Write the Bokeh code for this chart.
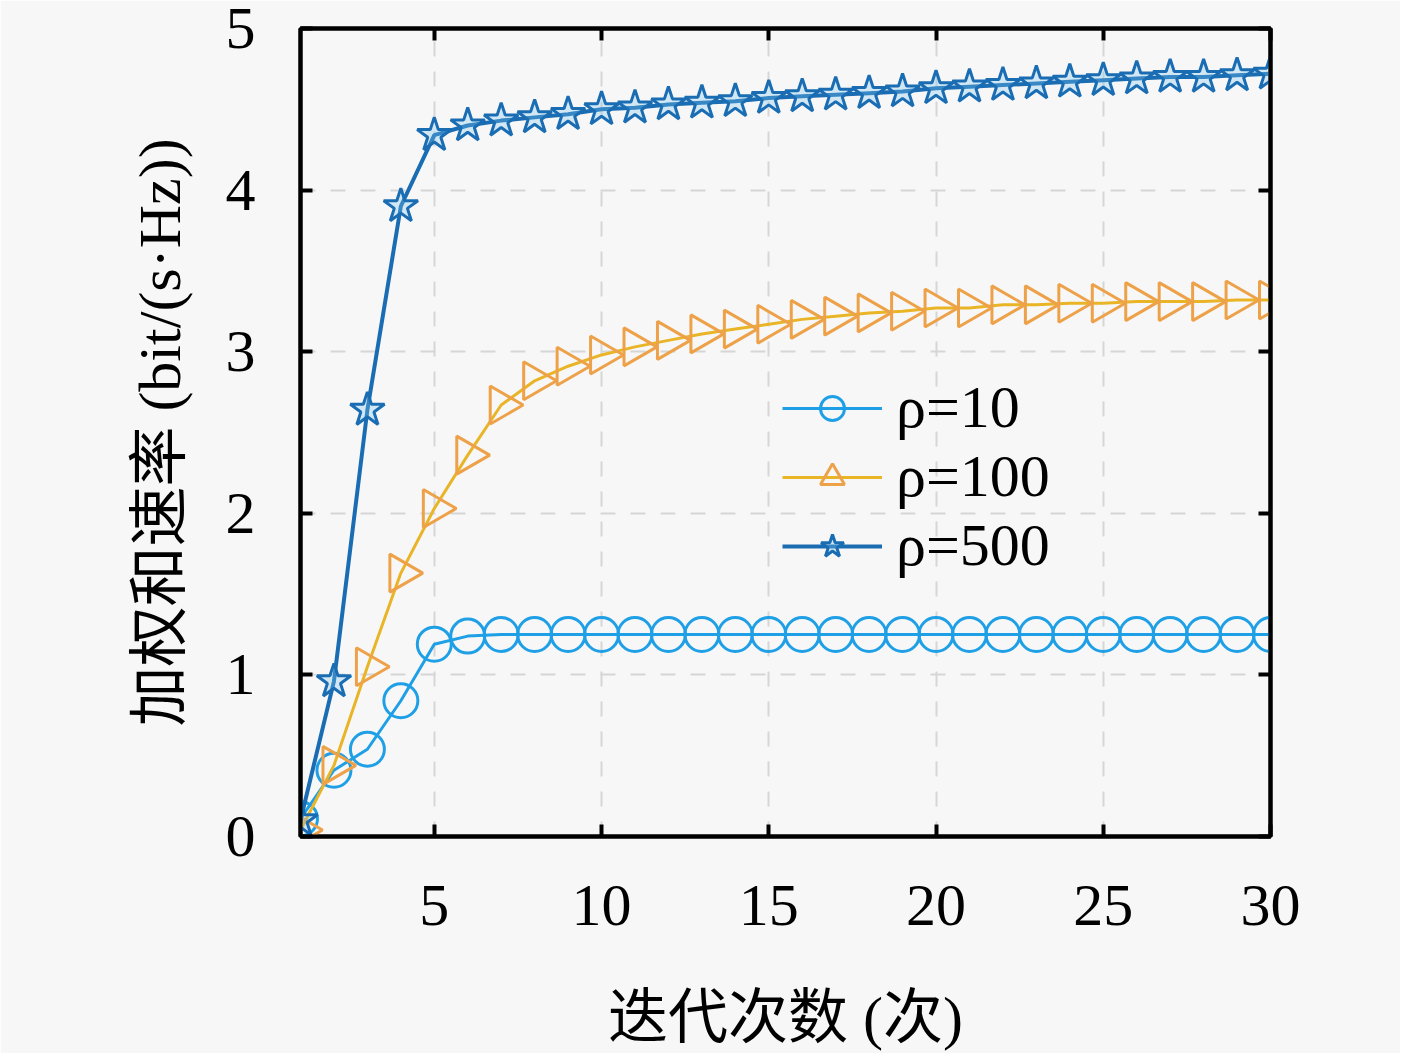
import math
from bokeh.plotting import figure
from bokeh.models import Range1d, LinearAxis, FixedTicker, Legend, LegendItem
from bokeh.embed import file_html
from bokeh.resources import INLINE

iters = list(range(1, 31))
rate_rho10 = [0.11, 0.41, 0.54, 0.84, 1.19, 1.24, 1.25, 1.25, 1.25, 1.25,
              1.25, 1.25, 1.25, 1.25, 1.25, 1.25, 1.25, 1.25, 1.25, 1.25,
              1.25, 1.25, 1.25, 1.25, 1.25, 1.25, 1.25, 1.25, 1.25, 1.25]
rate_rho100 = [0.04, 0.44, 1.05, 1.63, 2.03, 2.36, 2.67, 2.82, 2.91, 2.98,
               3.03, 3.07, 3.11, 3.14, 3.17, 3.20, 3.22, 3.24, 3.25, 3.27,
               3.27, 3.29, 3.29, 3.30, 3.30, 3.31, 3.31, 3.31, 3.32, 3.32]
rate_rho500 = [0.10, 0.96, 2.64, 3.90, 4.34, 4.40, 4.43, 4.45, 4.47, 4.50,
               4.51, 4.53, 4.54, 4.55, 4.57, 4.58, 4.59, 4.60, 4.61, 4.63,
               4.64, 4.65, 4.66, 4.67, 4.68, 4.69, 4.70, 4.70, 4.71, 4.72]
labels = ["ρ=10", "ρ=100", "ρ=500"]
x_ticks = [5, 10, 15, 20, 25, 30]
y_ticks = [0, 1, 2, 3, 4, 5]
x_label = "迭代次数 (次)"
y_label = "加权和速率 (bit/(s·Hz))"

BG = "#f7f7f7"
FONT = "Liberation Serif, Noto Sans CJK SC"

p = figure(frame_width=970, frame_height=808,
           min_border_left=300, min_border_right=130, min_border_top=28, min_border_bottom=214,
           x_range=Range1d(1, 30), y_range=Range1d(0, 5),
           output_backend="svg", toolbar_location=None,
           background_fill_color=BG, border_fill_color=BG)

p.outline_line_color = "black"
p.outline_line_width = 4

for ax in p.xaxis:
    ax.ticker = FixedTicker(ticks=x_ticks)
    ax.axis_label = x_label
    ax.axis_label_standoff = 57
    ax.major_label_standoff = 49
for ax in p.yaxis:
    ax.ticker = FixedTicker(ticks=y_ticks)
    ax.axis_label = y_label
    ax.axis_label_standoff = 30
    ax.major_label_standoff = 45

for ax in p.xaxis + p.yaxis:
    ax.axis_line_width = 4
    ax.axis_line_color = "black"
    ax.major_tick_in = 12
    ax.major_tick_out = 0
    ax.major_tick_line_width = 4
    ax.minor_tick_line_color = None
    ax.major_label_text_font = FONT
    ax.major_label_text_font_size = "60px"
    ax.major_label_text_color = "black"
    ax.axis_label_text_font = FONT
    ax.axis_label_text_font_size = "60px"
    ax.axis_label_text_font_style = "normal"
    ax.axis_label_text_color = "black"

top = LinearAxis(ticker=FixedTicker(ticks=x_ticks), major_label_text_font_size="10px",
                 major_label_text_color=None,
                 major_tick_in=12, major_tick_out=0, major_tick_line_width=4,
                 axis_line_width=4, minor_tick_line_color=None)
right = LinearAxis(ticker=FixedTicker(ticks=y_ticks), major_label_text_font_size="10px",
                   major_label_text_color=None,
                   major_tick_in=12, major_tick_out=0, major_tick_line_width=4,
                   axis_line_width=4, minor_tick_line_color=None)
p.add_layout(top, "above")
p.add_layout(right, "right")

p.xgrid.ticker = FixedTicker(ticks=x_ticks)
p.ygrid.ticker = FixedTicker(ticks=y_ticks)
for g in (p.xgrid, p.ygrid):
    g.grid_line_color = "#d6d6d6"
    g.grid_line_width = 2
    g.grid_line_dash = "15 15"

c10 = "#1fa0e6"
c100 = "#e9b527"
c100e = "#eda24a"
c500 = "#1b6db3"

l1 = p.line(iters, rate_rho10, line_color=c10, line_width=3)
m1 = p.scatter(iters, rate_rho10, marker="circle", size=34, line_color=c10, fill_color=None, line_width=3)

l2 = p.line(iters, rate_rho100, line_color=c100, line_width=3)
m2 = p.scatter(iters, rate_rho100, marker="triangle", angle=-math.pi / 2, size=38,
               line_color=c100e, fill_color=None, line_width=3)

l3 = p.line(iters, rate_rho500, line_color=c500, line_width=4)
m3 = p.scatter(iters, rate_rho500, marker="star", size=36, line_color=c500,
               fill_color="#7cc8ef", fill_alpha=0.3, line_width=3)

legend = Legend(items=[LegendItem(label=labels[0], renderers=[l1, m1]),
                       LegendItem(label=labels[1], renderers=[l2, m2]),
                       LegendItem(label=labels[2], renderers=[l3, m3])],
                location=(482, 256))
legend.background_fill_alpha = 0
legend.border_line_color = None
legend.label_text_font = FONT
legend.label_text_font_size = "60px"
legend.label_text_font_style = "normal"
legend.label_text_color = "black"
legend.glyph_width = 100
legend.glyph_height = 60
legend.label_height = 60
legend.spacing = -7
legend.padding = 2
legend.margin = 0
legend.label_standoff = 14
p.add_layout(legend, "center")

open("out.html", "w").write(file_html(p, INLINE))
